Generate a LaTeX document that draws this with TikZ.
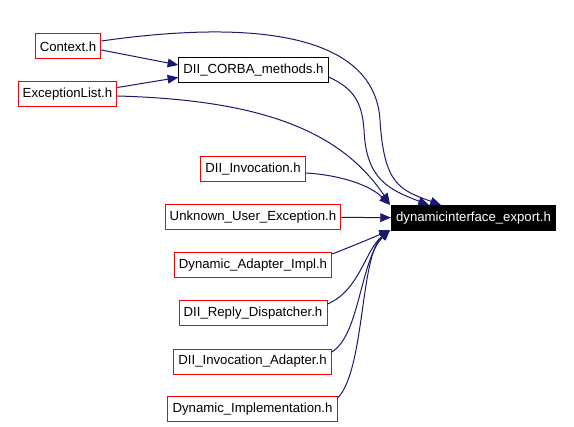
\documentclass[tikz,border=0pt]{standalone}
\usepackage{fontspec}
\setmainfont{Liberation Sans}
\usetikzlibrary{arrows.meta, calc}
\definecolor{dxred}{HTML}{FF0000}
\definecolor{dxedge}{HTML}{191970}
\tikzset{
  hfile/.style={
    draw=dxred, line width=.75pt, inner xsep=3.5pt, inner ysep=0pt,
    minimum height=18.75pt, font=\fontsize{9.9}{11}\selectfont},
  hdoc/.style={hfile, draw=black},
  hroot/.style={hfile, draw=black, fill=black, text=white},
  incl/.style={-{Triangle[length=8pt, width=6.5pt]}, draw=dxedge,
               line width=.75pt},
}

\begin{document}
\begin{tikzpicture}[x=.75pt, y=-.75pt]
  \useasboundingbox (0,0) rectangle (574,427);
  % includers
  \node[hfile] (ctx)   at (68,46.5)    {Context.h};
  \node[hdoc]  (corba) at (253.5,70.5) {DII\_CORBA\_methods.h};
  \node[hfile] (exc)   at (67.5,94.5)  {ExceptionList.h};
  \node[hfile] (dinv)  at (253,169)    {DII\_Invocation.h};
  \node[hfile] (unk)   at (253,217)    {Unknown\_User\_Exception.h};
  \node[hfile] (dai)   at (253,265)    {Dynamic\_Adapter\_Impl.h};
  \node[hfile] (reply) at (253,313)    {DII\_Reply\_Dispatcher.h};
  \node[hfile] (inva)  at (252.5,361.5){DII\_Invocation\_Adapter.h};
  \node[hfile] (dimpl) at (252.5,409)  {Dynamic\_Implementation.h};
  % included header
  \node[hroot] (exp)   at (473.5,218)  {dynamicinterface\_export.h};

  \draw[incl] ($(ctx.east)+(0,3.5)$) -- ($(corba.west)+(0,-5.5)$);
  \draw[incl] ($(exc.east)+(0,-7)$) -- ($(corba.west)+(0,7)$);
  \draw[incl] ($(ctx.east)+(0,-5.5)$)
        .. controls (270,17) and (375,40) .. (380,120)
        .. controls (384,185) and (400,190) .. ($(exp.north west)+(50,0)$);
  \draw[incl] ($(corba.east)+(0,6.5)$)
        .. controls (352,88) and (362,100) .. (364,130)
        .. controls (366,180) and (390,190) .. ($(exp.north west)+(38,0)$);
  \draw[incl] ($(exc.east)+(0,1.5)$)
        .. controls (260,100) and (340,130) .. ($(exp.west)+(-1,-14)$);
  \draw[incl] ($(dinv.east)+(0,4)$)
        .. controls (340,175) and (370,185) .. ($(exp.west)+(-1,-13)$);
  \draw[incl] (unk) -- (exp);
  \draw[incl] ($(dai.east)+(0,-11)$)
        .. controls (355,245) and (372,238) .. ($(exp.west)+(-1,12)$);
  \draw[incl] ($(reply.east)+(0,-9)$)
        .. controls (360,290) and (365,250) .. ($(exp.west)+(-1,12)$);
  \draw[incl] ($(inva.east)+(0,-9.5)$)
        .. controls (360,335) and (360,260) .. ($(exp.west)+(-1,12)$);
  \draw[incl] ($(dimpl.east)+(0,-11)$)
        .. controls (365,370) and (360,255) .. ($(exp.west)+(-1,12)$);
\end{tikzpicture}
\end{document}
